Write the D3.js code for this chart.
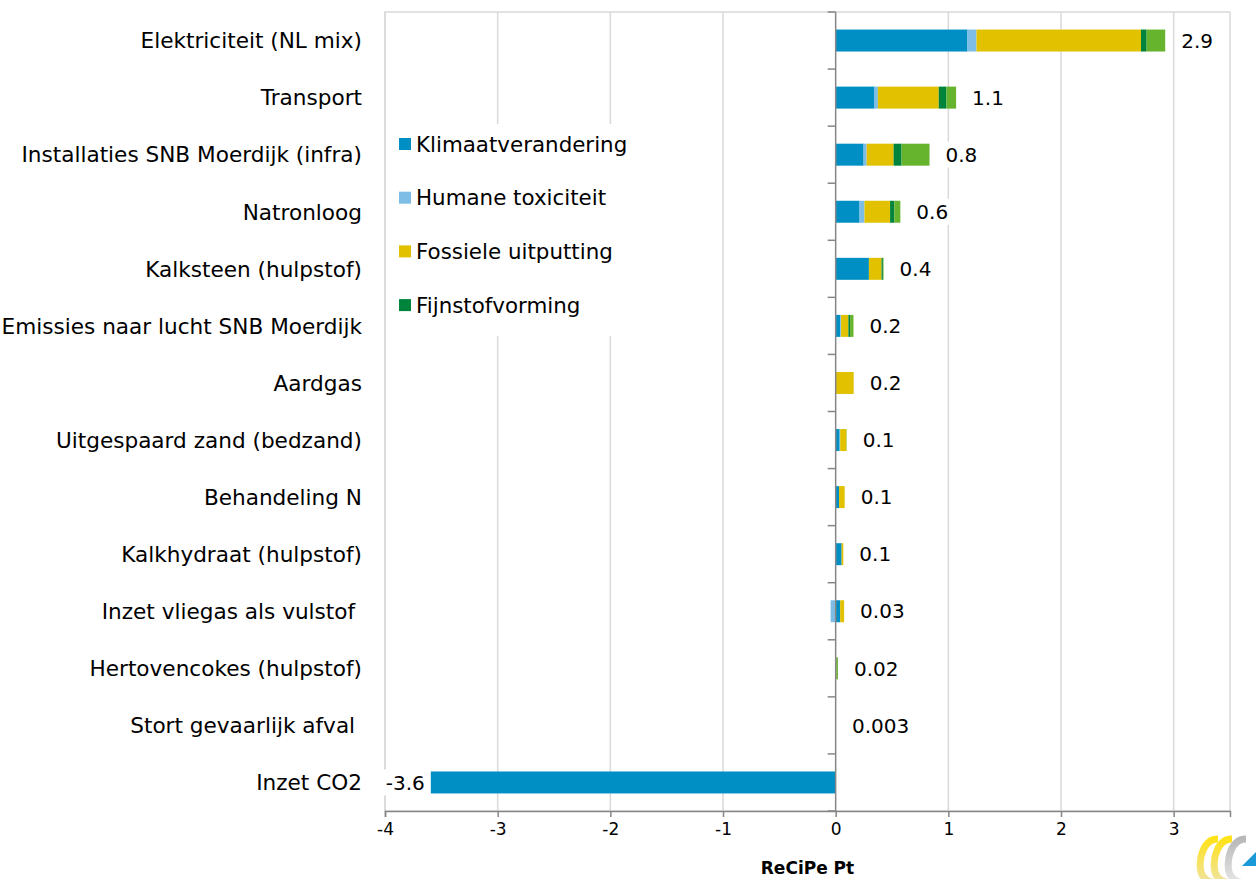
<!DOCTYPE html>
<html>
<head>
<meta charset="utf-8">
<script src="https://cdn.jsdelivr.net/npm/d3@7"></script>
<style>
  html, body { margin: 0; padding: 0; background: #fff; }
  svg { display: block; font-family: "DejaVu Sans", sans-serif; }
</style>
</head>
<body>
<svg id="chart" width="1256" height="879"></svg>
<script>
// Contributions per process step, ReCiPe single score (Pt)
const categories = [
  "Elektriciteit (NL mix)",
  "Transport",
  "Installaties SNB Moerdijk (infra)",
  "Natronloog",
  "Kalksteen (hulpstof)",
  "Emissies naar lucht SNB Moerdijk",
  "Aardgas",
  "Uitgespaard zand (bedzand)",
  "Behandeling N",
  "Kalkhydraat (hulpstof)",
  "Inzet vliegas als vulstof ",
  "Hertovencokes (hulpstof)",
  "Stort gevaarlijk afval ",
  "Inzet CO2"
];

const seriesNames = ["Klimaatverandering", "Humane toxiciteit", "Fossiele uitputting", "Fijnstofvorming", "Overig"];
const legendNames = ["Klimaatverandering", "Humane toxiciteit", "Fossiele uitputting", "Fijnstofvorming"];

const klimaatverandering = [1.17, 0.345, 0.248, 0.212, 0.295, 0.04, 0, 0.035, 0.03, 0.053, 0.04, 0, 0.002, -3.62];
const humaneToxiciteit   = [0.08, 0.03, 0.027, 0.044, 0, 0.008, 0, 0.005, 0, 0, -0.045, 0, 0, 0];
const fossieleUitputting = [1.46, 0.54, 0.239, 0.227, 0.112, 0.065, 0.16, 0.055, 0.05, 0.015, 0.035, 0.005, 0.001, 0];
const fijnstofvorming    = [0.05, 0.068, 0.071, 0.038, 0.012, 0.015, 0, 0, 0, 0, 0, 0, 0, 0];
const overig             = [0.165, 0.086, 0.248, 0.053, 0.006, 0.03, 0, 0.003, 0, 0, 0, 0.015, 0, 0];

const totalLabels = ["2.9", "1.1", "0.8", "0.6", "0.4", "0.2", "0.2", "0.1", "0.1", "0.1", "0.03", "0.02", "0.003", "-3.6"];

const xTicks = [-4, -3, -2, -1, 0, 1, 2, 3];
const xTitle = "ReCiPe Pt";

const colors = ["#008fc4", "#7dbde6", "#e2c200", "#00833a", "#66b32e"];

// Table for the stack layout
const seriesValues = [klimaatverandering, humaneToxiciteit, fossieleUitputting, fijnstofvorming, overig];
const rows = categories.map((c, i) => {
  const r = { category: c, index: i };
  seriesNames.forEach((s, k) => { r[s] = seriesValues[k][i]; });
  return r;
});

const svg = d3.select("#chart");
const plot = { left: 385, right: 1230, top: 12, bottom: 811 };

const x = d3.scaleLinear().domain([-4, 3.5]).range([plot.left, plot.right]);
const y = d3.scaleBand().domain(categories).range([plot.top, plot.bottom])
  .paddingInner(0.615).paddingOuter(0.3075);

const stack = d3.stack().keys(seriesNames).offset(d3.stackOffsetDiverging);
const stacked = stack(rows);

// Plot frame and vertical gridlines
svg.append("rect")
  .attr("x", plot.left).attr("y", plot.top)
  .attr("width", plot.right - plot.left).attr("height", plot.bottom - plot.top)
  .attr("fill", "none").attr("stroke", "#d9d9d9").attr("stroke-width", 1.5);

svg.append("g").selectAll("line").data(xTicks.filter(t => t !== 0)).join("line")
  .attr("x1", d => x(d)).attr("x2", d => x(d))
  .attr("y1", plot.top).attr("y2", plot.bottom)
  .attr("stroke", "#d9d9d9").attr("stroke-width", 1.5);

// Stacked bars
svg.append("g").selectAll("g").data(stacked).join("g")
  .attr("fill", (d, i) => colors[i])
  .selectAll("rect").data(d => d).join("rect")
  .attr("x", d => x(Math.min(d[0], d[1])))
  .attr("width", d => Math.abs(x(d[1]) - x(d[0])))
  .attr("y", d => y(d.data.category))
  .attr("height", y.bandwidth());

// Vertical category axis at zero
const axisColor = "#868686";
svg.append("line")
  .attr("x1", x(0)).attr("x2", x(0)).attr("y1", plot.top).attr("y2", plot.bottom)
  .attr("stroke", axisColor).attr("stroke-width", 1.5);
const step = y.step();
svg.append("g").selectAll("line").data(d3.range(0, categories.length + 1)).join("line")
  .attr("x1", x(0) - 8).attr("x2", x(0))
  .attr("y1", i => plot.top + i * step).attr("y2", i => plot.top + i * step)
  .attr("stroke", axisColor).attr("stroke-width", 1.5);

// Bottom value axis
const xAxis = d3.axisBottom(x).tickValues(xTicks).tickSize(6).tickPadding(6).tickFormat(d3.format("d"));
const gx = svg.append("g").attr("transform", `translate(0,${plot.bottom})`).call(xAxis);
gx.select(".domain").attr("stroke", axisColor).attr("stroke-width", 1.5);
gx.selectAll(".tick line").attr("stroke", axisColor).attr("stroke-width", 1.5);
gx.selectAll(".tick text")
  .attr("font-family", "DejaVu Sans, sans-serif").attr("font-size", 17).attr("fill", "#000")
  .text(d => d < 0 ? "-" + Math.abs(d) : d);

svg.append("text")
  .attr("x", (plot.left + plot.right) / 2).attr("y", 874)
  .attr("text-anchor", "middle").attr("font-size", 17).attr("font-weight", "bold")
  .attr("fill", "#000").text(xTitle);

// Category labels
svg.append("g").selectAll("text").data(categories).join("text")
  .attr("x", 362).attr("y", d => y(d) + y.bandwidth() / 2)
  .attr("dy", "0.36em").attr("text-anchor", "end")
  .attr("font-size", 21.6).attr("fill", "#000")
  .style("white-space", "pre")
  .text(d => d);

// Total labels on white boxes
const totals = rows.map(r => {
  let pos = 0, neg = 0;
  seriesNames.forEach(s => { if (r[s] >= 0) pos += r[s]; else neg += r[s]; });
  return { pos, neg };
});
const labelG = svg.append("g");
rows.forEach((r, i) => {
  const negative = totalLabels[i].startsWith("-");
  const cy = y(r.category) + y.bandwidth() / 2;
  const g = labelG.append("g");
  const bg = g.append("rect").attr("fill", "#fff");
  const t = g.append("text")
    .attr("y", cy).attr("dy", "0.36em")
    .attr("font-size", 20).attr("fill", "#000")
    .text(totalLabels[i]);
  if (negative) {
    t.attr("x", x(totals[i].neg) - 3).attr("text-anchor", "end");
  } else {
    t.attr("x", x(totals[i].pos) + 16).attr("text-anchor", "start");
  }
  const bb = t.node().getBBox();
  bg.attr("x", bb.x - 6).attr("y", cy - 13).attr("width", bb.width + 12).attr("height", 26);
});

// Legend with white background
const legend = svg.append("g");
legend.append("rect")
  .attr("x", 392).attr("y", 124).attr("width", 250).attr("height", 212).attr("fill", "#fff");
legendNames.forEach((name, i) => {
  const cy = 144 + i * 53.7;
  legend.append("rect").attr("x", 399).attr("y", cy - 6).attr("width", 12).attr("height", 12).attr("fill", colors[i]);
  legend.append("text").attr("x", 416).attr("y", cy).attr("dy", "0.36em")
    .attr("font-size", 21.4).attr("fill", "#000").text(name);
});

// Corner emblem
const defs = svg.append("defs");
const grad = defs.append("linearGradient").attr("id", "ygrad").attr("x1", 0).attr("y1", 0).attr("x2", 0).attr("y2", 1);
grad.append("stop").attr("offset", "0%").attr("stop-color", "#ffe21a");
grad.append("stop").attr("offset", "100%").attr("stop-color", "#efe3a0");
const ggrad = defs.append("linearGradient").attr("id", "ggrad").attr("x1", 0).attr("y1", 0).attr("x2", 0).attr("y2", 1);
ggrad.append("stop").attr("offset", "0%").attr("stop-color", "#b8b8b8");
ggrad.append("stop").attr("offset", "100%").attr("stop-color", "#e6e6e6");
const emblem = svg.append("g");
const arc = (cx, stroke) => emblem.append("path")
  .attr("d", `M${cx + 9},839 C${cx - 5},839 ${cx - 11},858 ${cx - 8},872 C${cx - 6},879 ${cx},882 ${cx + 4},882`)
  .attr("fill", "none").attr("stroke", stroke).attr("stroke-width", 7).attr("stroke-linecap", "butt");
arc(1209, "url(#ygrad)");
arc(1223, "url(#ygrad)");
arc(1237, "url(#ggrad)");
emblem.append("path").attr("d", "M1242,866 L1256,852 L1256,866 Z").attr("fill", "#1a9ad8");
</script>
</body>
</html>
